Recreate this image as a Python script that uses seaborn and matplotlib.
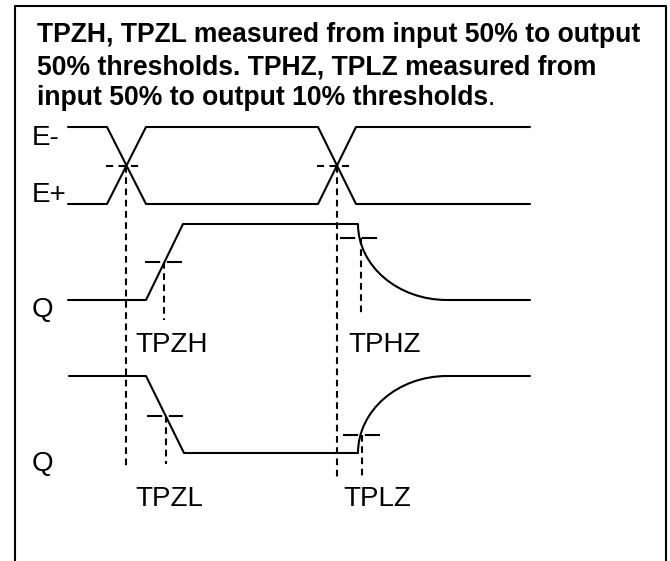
import matplotlib
matplotlib.use("Agg")
import matplotlib.pyplot as plt
import seaborn as sns
import pandas as pd
from matplotlib.path import Path
from matplotlib.patches import PathPatch

sns.set_theme(style="white")
plt.rcParams['font.family'] = ['Liberation Sans', 'DejaVu Sans']

# ---------------- data (diagram coordinates, pixel-like units) ----------------
title_lines = ["TPZH, TPZL measured from input 50% to output",
               "50% thresholds. TPHZ, TPLZ measured from",
               "input 50% to output 10% thresholds"]
title_end = "."
title_baselines = [42, 74, 105]

# enable inputs E- and E+
e_x = [68, 107, 146, 318, 356, 530]
e_minus_y = [127, 127, 204, 204, 127, 127]
e_plus_y = [204, 204, 127, 127, 204, 204]
e_cross_x = [126, 337]
e_cross_y = 166

# output Q (Z -> H, then H -> Z)
q1_x = [68, 146, 183, 358]
q1_y = [300, 300, 224, 224]
q1_tail_x = [447, 530]
q1_tail_y = [300, 300]

# output Q (Z -> L, then L -> Z)
q2_x = [69, 146, 184, 358]
q2_y = [376, 376, 453, 453]
q2_tail_x = [447, 530]
q2_tail_y = [376, 376]

# threshold markers: (x_left, x_right, y)
markers = [(145, 182, 262), (340, 378, 238), (147, 183, 416), (343, 380, 435)]
# vertical reference lines: (x, y_top, y_bottom)
vlines = [(126, 166, 467), (337, 166, 480), (164, 262, 320),
          (361, 238, 313), (166, 416, 464), (362, 435, 480)]

signal_labels = ["E-", "E+", "Q", "Q"]
signal_label_pos = [(32, 145), (32, 202), (32, 317), (32, 471)]
timing_labels = ["TPZH", "TPHZ", "TPZL", "TPLZ"]
timing_label_pos = [(135, 352), (348, 352), (135, 506), (343, 506)]

# ---------------- figure ----------------
fig = plt.figure(figsize=(6.70, 5.61), dpi=100)
ax = fig.add_axes([0, 0, 1, 1])
ax.set_xlim(0, 670)
ax.set_ylim(561, 0)
ax.axis("off")

LW = 1.5
BLACK = "black"

def poly(xs, ys, **kw):
    df = pd.DataFrame({"x": xs, "y": ys, "i": range(len(xs))})
    sns.lineplot(data=df, x="x", y="y", sort=False, estimator=None,
                 ax=ax, color=BLACK, lw=LW, **kw)

# frame (open at bottom)
poly([15, 15, 666, 666], [561, 6, 6, 561])

# E- / E+
poly(e_x, e_minus_y)
poly(e_x, e_plus_y)

# Q waveforms with curved tristate transitions
poly(q1_x, q1_y)
poly(q1_tail_x, q1_tail_y)
poly(q2_x, q2_y)
poly(q2_tail_x, q2_tail_y)

k = 0.5523
def quarter(x0, y0, x1, y1):
    verts = [(x0, y0), (x0, y0 + k * (y1 - y0)), (x1 - k * (x1 - x0), y1), (x1, y1)]
    codes = [Path.MOVETO, Path.CURVE4, Path.CURVE4, Path.CURVE4]
    ax.add_patch(PathPatch(Path(verts, codes), fill=False, lw=LW, edgecolor=BLACK))

quarter(q1_x[-1], q1_y[-1], q1_tail_x[0], q1_tail_y[0])
quarter(q2_x[-1], q2_y[-1], q2_tail_x[0], q2_tail_y[0])

# crossing dashes on E
for cx in e_cross_x:
    ax.plot([cx - 20, cx + 16], [e_cross_y, e_cross_y], color=BLACK, lw=LW,
            linestyle=(0, (3.4, 2.6)))

# threshold markers
for x0, x1, y in markers:
    ax.plot([x0, x1], [y, y], color=BLACK, lw=LW, linestyle=(0, (7.3, 3.2)))

# vertical dashed reference lines
for x, y0, y1 in vlines:
    ax.plot([x, x], [y0, y1], color=BLACK, lw=LW, linestyle=(0, (3.2, 2.2)))

# title
last = None
for line, yb in zip(title_lines, title_baselines):
    last = ax.text(37, yb, line, fontsize=19.1, fontweight="bold", va="baseline",
                   ha="left", color=BLACK)
fig.canvas.draw()
bb = last.get_window_extent(renderer=fig.canvas.get_renderer())
x_end = ax.transData.inverted().transform((bb.x1, bb.y0))[0]
ax.text(x_end, title_baselines[-1], title_end, fontsize=19.1, va="baseline",
        ha="left", color=BLACK)

for lab, (x, y) in zip(signal_labels, signal_label_pos):
    ax.text(x, y, lab, fontsize=20, va="baseline", ha="left", color=BLACK)
for lab, (x, y) in zip(timing_labels, timing_label_pos):
    ax.text(x, y, lab, fontsize=20, va="baseline", ha="left", color=BLACK)

fig.savefig("out.png", dpi=100)
